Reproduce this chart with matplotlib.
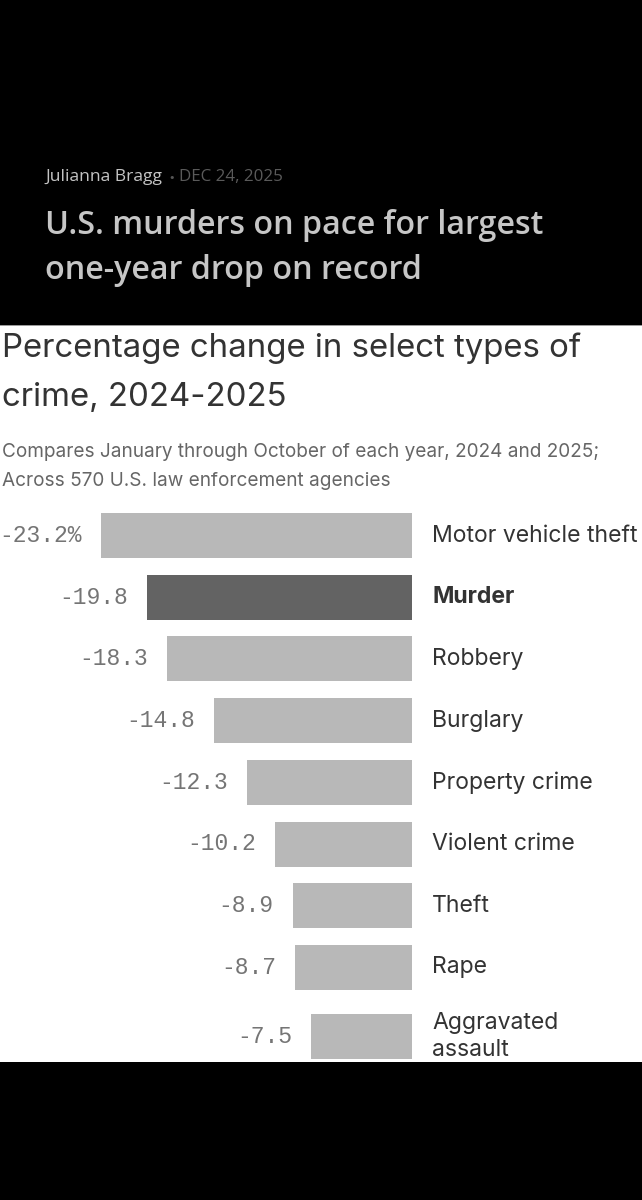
import matplotlib
matplotlib.use("Agg")
import matplotlib.pyplot as plt
from matplotlib.patches import Rectangle

# ---- data ----
categories = ["Motor vehicle theft", "Murder", "Robbery", "Burglary",
              "Property crime", "Violent crime", "Theft", "Rape",
              "Aggravated\nassault"]
values = [-23.2, -19.8, -18.3, -14.8, -12.3, -10.2, -8.9, -8.7, -7.5]
highlight = "Murder"

byline_author = "Julianna Bragg"
byline_date = "DEC 24, 2025"
headline = ["U.S. murders on pace for largest", "one-year drop on record"]
title = ["Percentage change in select types of", "crime, 2024-2025"]
subtitle = ["Compares January through October of each year, 2024 and 2025;",
            "Across 570 U.S. law enforcement agencies"]

W, H = 642, 1200
DPI = 100
fig = plt.figure(figsize=(W / DPI, H / DPI), dpi=DPI, facecolor="black")

def px(x, y):
    return x / W, 1 - y / H

def pt(pxsize):
    return pxsize * 72 / DPI

# white panel
top_white, bot_white = 326, 1062
fig.patches.append(Rectangle(px(0, bot_white), 1, (bot_white - top_white) / H,
                             transform=fig.transFigure, facecolor="white",
                             edgecolor="none", zorder=-2))
fig.patches.append(Rectangle(px(0, top_white), 1, 1.5 / H,
                             transform=fig.transFigure, facecolor="#9a9a9a",
                             edgecolor="none", zorder=-1))

# header (dark)
fig.text(*px(45, 181), byline_author, fontsize=pt(17.5), color="#c4c4c4",
         family="Open Sans", fontweight=500, va="baseline", ha="left")
fig.text(*px(168, 181), "\u2022", fontsize=pt(11), color="#555555",
         family="DejaVu Sans", va="baseline", ha="left")
fig.text(*px(179, 181), byline_date, fontsize=pt(17), color="#5a5a5a",
         family="Open Sans", va="baseline", ha="left")
for i, line in enumerate(headline):
    fig.text(*px(45, 234 + 45 * i), line, fontsize=pt(32.3), color="#c6c6c6",
             family="Open Sans", fontweight=600, va="baseline", ha="left")

# chart titles
for i, line in enumerate(title):
    fig.text(*px(2, 357 + 49 * i), line, fontsize=pt(33), color="#333333",
             family="Inter", va="baseline", ha="left")
for i, line in enumerate(subtitle):
    fig.text(*px(2, 457 + 29 * i), line, fontsize=pt(19), color="#666666",
             family="Inter", va="baseline", ha="left")

# ---- bar axes ----
ax = fig.add_axes([0, 1 - bot_white / H, 1, (bot_white - top_white) / H])
ax.set_zorder(1)
ax.set_facecolor("none")
for s in ax.spines.values():
    s.set_visible(False)
ax.set_xticks([])
ax.set_yticks([])

px_per_unit = (412 - 101) / 23.2
ax.set_xlim(-412 / px_per_unit, (W - 412) / px_per_unit)

row_px = 61.7
first_center = 535.5
ax.set_ylim((bot_white - first_center) / row_px, -(first_center - top_white) / row_px)

# row positions: extra room for multi-line labels
nlines = [c.count("\n") + 1 for c in categories]
extra = 0.115
pos = []
for i, n in enumerate(nlines):
    if i == 0:
        pos.append(0.0)
    else:
        pos.append(pos[-1] + 1 + extra * (n - 1) + extra * (nlines[i - 1] - 1))

bar_h = 45 / row_px
colors = ["#636363" if c == highlight else "#b8b8b8" for c in categories]
ax.barh(pos, values, height=bar_h, color=colors, edgecolor="none")

gap = 19 / px_per_unit
for i, (c, v, y) in enumerate(zip(categories, values, pos)):
    lab = f"-{abs(v):.1f}" + ("%" if i == 0 else "")
    ax.text(v - gap, y, lab, ha="right", va="center", fontsize=pt(23),
            color="#757575", family="Liberation Mono")
    ax.text(20 / px_per_unit, y, c, ha="left", va="center",
            fontsize=pt(23), color="#333333", family="Inter",
            fontweight="bold" if c == highlight else "normal",
            linespacing=1.3)

fig.savefig("out.png", dpi=DPI, facecolor="black")
